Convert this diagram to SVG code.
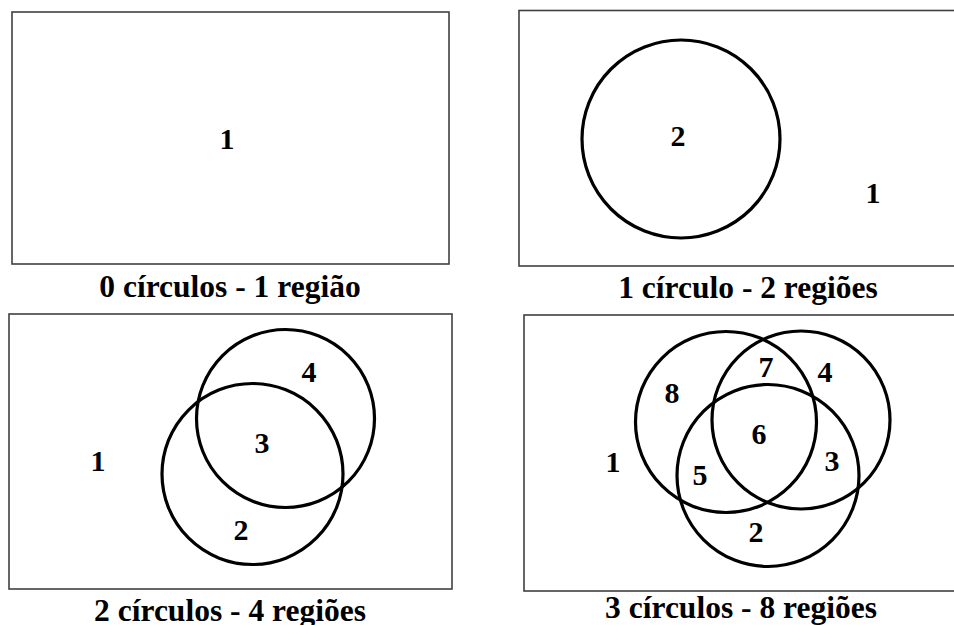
<svg xmlns="http://www.w3.org/2000/svg" width="954" height="625" viewBox="0 0 954 625">
<style>
.frame{fill:none;stroke:#404040;stroke-width:1.6}
.c{fill:none;stroke:#000;stroke-width:3.2}
.n{font-family:"Liberation Serif","Times New Roman",serif;font-weight:bold;font-size:30px;fill:#000;text-anchor:middle}
.cap{font-family:"Liberation Serif","Times New Roman",serif;font-weight:bold;font-size:31.5px;fill:#000;text-anchor:middle}
</style>
<rect width="954" height="625" fill="#fff"/>
<g id="panel0">
<rect class="frame" x="12" y="12" width="437" height="252"/>
<text class="n" x="227" y="149">1</text>
<text class="cap" x="230" y="297">0 círculos - 1 região</text>
</g>
<g id="panel1">
<rect class="frame" x="519" y="10.5" width="440" height="255.5"/>
<circle class="c" cx="681" cy="139" r="99"/>
<text class="n" x="678" y="146">2</text>
<text class="n" x="873" y="203">1</text>
<text class="cap" x="748" y="298">1 círculo - 2 regiões</text>
</g>
<g id="panel2">
<rect class="frame" x="9" y="314" width="443" height="275"/>
<circle class="c" cx="285.5" cy="418.5" r="89"/>
<circle class="c" cx="252.5" cy="474" r="90.5"/>
<text class="n" x="309" y="382">4</text>
<text class="n" x="262" y="453">3</text>
<text class="n" x="98" y="471">1</text>
<text class="n" x="241" y="540">2</text>
<text class="cap" x="230" y="621">2 círculos - 4 regiões</text>
</g>
<g id="panel3">
<rect class="frame" x="524" y="315" width="440" height="276"/>
<circle class="c" cx="726" cy="422" r="90.5"/>
<circle class="c" cx="801" cy="420" r="89"/>
<circle class="c" cx="768" cy="475.5" r="91"/>
<text class="n" x="766" y="377">7</text>
<text class="n" x="825" y="382">4</text>
<text class="n" x="672" y="403">8</text>
<text class="n" x="759" y="444">6</text>
<text class="n" x="613" y="472">1</text>
<text class="n" x="832" y="471">3</text>
<text class="n" x="700" y="485">5</text>
<text class="n" x="756" y="542">2</text>
<text class="cap" x="741" y="618">3 círculos - 8 regiões</text>
</g>
</svg>
